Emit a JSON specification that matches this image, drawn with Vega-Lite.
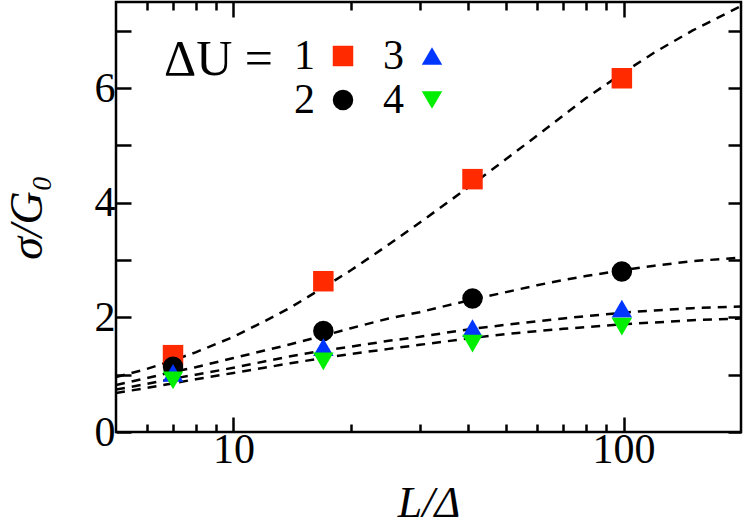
{
  "$schema": "https://vega.github.io/schema/vega-lite/v6.json",
  "width": 625,
  "height": 430,
  "autosize": {"type": "none"},
  "padding": {"left": 116, "top": 2, "right": 6, "bottom": 93},
  "config": {
    "view": {"stroke": "black", "strokeWidth": 2.5},
    "font": "Liberation Serif",
    "axis": {
      "domain": false, "grid": false, "tickColor": "black", "tickWidth": 2.5,
      "labelFont": "Liberation Serif", "labelFontSize": 42, "labelColor": "black",
      "titleFont": "Liberation Serif", "titleFontSize": 42, "titleFontWeight": "normal", "titleColor": "black",
      "labelOverlap": false, "labelFlush": false
    }
  },
  "datasets": {
    "curves": [
      {"dU": "1", "L": 5, "s": 0.96}, {"dU": "1", "L": 6, "s": 1.10}, {"dU": "1", "L": 7, "s": 1.25}, {"dU": "1", "L": 8, "s": 1.39},
      {"dU": "1", "L": 10, "s": 1.66}, {"dU": "1", "L": 12, "s": 1.93}, {"dU": "1", "L": 14, "s": 2.17}, {"dU": "1", "L": 17, "s": 2.52},
      {"dU": "1", "L": 20, "s": 2.82}, {"dU": "1", "L": 25, "s": 3.27}, {"dU": "1", "L": 30, "s": 3.65}, {"dU": "1", "L": 35, "s": 3.98},
      {"dU": "1", "L": 41, "s": 4.32}, {"dU": "1", "L": 50, "s": 4.76}, {"dU": "1", "L": 60, "s": 5.17}, {"dU": "1", "L": 70, "s": 5.52},
      {"dU": "1", "L": 80, "s": 5.82}, {"dU": "1", "L": 99, "s": 6.25}, {"dU": "1", "L": 120, "s": 6.62}, {"dU": "1", "L": 150, "s": 7.0},
      {"dU": "1", "L": 200, "s": 7.43},
      {"dU": "2", "L": 5, "s": 0.82}, {"dU": "2", "L": 6, "s": 0.94}, {"dU": "2", "L": 7, "s": 1.05}, {"dU": "2", "L": 8, "s": 1.13},
      {"dU": "2", "L": 10, "s": 1.29}, {"dU": "2", "L": 12, "s": 1.42}, {"dU": "2", "L": 14, "s": 1.53}, {"dU": "2", "L": 17, "s": 1.68},
      {"dU": "2", "L": 20, "s": 1.81}, {"dU": "2", "L": 25, "s": 1.98}, {"dU": "2", "L": 30, "s": 2.09}, {"dU": "2", "L": 35, "s": 2.2},
      {"dU": "2", "L": 41, "s": 2.31}, {"dU": "2", "L": 50, "s": 2.44}, {"dU": "2", "L": 60, "s": 2.56}, {"dU": "2", "L": 70, "s": 2.65},
      {"dU": "2", "L": 80, "s": 2.72}, {"dU": "2", "L": 99, "s": 2.82}, {"dU": "2", "L": 120, "s": 2.9}, {"dU": "2", "L": 150, "s": 2.98},
      {"dU": "2", "L": 200, "s": 3.04},
      {"dU": "3", "L": 5, "s": 0.74}, {"dU": "3", "L": 6, "s": 0.84}, {"dU": "3", "L": 7, "s": 0.93}, {"dU": "3", "L": 8, "s": 1.0},
      {"dU": "3", "L": 10, "s": 1.12}, {"dU": "3", "L": 12, "s": 1.23}, {"dU": "3", "L": 14, "s": 1.32}, {"dU": "3", "L": 17, "s": 1.42},
      {"dU": "3", "L": 20, "s": 1.49}, {"dU": "3", "L": 25, "s": 1.59}, {"dU": "3", "L": 30, "s": 1.66}, {"dU": "3", "L": 35, "s": 1.73},
      {"dU": "3", "L": 41, "s": 1.8}, {"dU": "3", "L": 50, "s": 1.87}, {"dU": "3", "L": 60, "s": 1.93}, {"dU": "3", "L": 70, "s": 1.98},
      {"dU": "3", "L": 80, "s": 2.02}, {"dU": "3", "L": 99, "s": 2.08}, {"dU": "3", "L": 120, "s": 2.12}, {"dU": "3", "L": 150, "s": 2.16},
      {"dU": "3", "L": 200, "s": 2.19},
      {"dU": "4", "L": 5, "s": 0.68}, {"dU": "4", "L": 6, "s": 0.77}, {"dU": "4", "L": 7, "s": 0.85}, {"dU": "4", "L": 8, "s": 0.92},
      {"dU": "4", "L": 10, "s": 1.03}, {"dU": "4", "L": 12, "s": 1.12}, {"dU": "4", "L": 14, "s": 1.2}, {"dU": "4", "L": 17, "s": 1.29},
      {"dU": "4", "L": 20, "s": 1.36}, {"dU": "4", "L": 25, "s": 1.45}, {"dU": "4", "L": 30, "s": 1.52}, {"dU": "4", "L": 35, "s": 1.58},
      {"dU": "4", "L": 41, "s": 1.64}, {"dU": "4", "L": 50, "s": 1.71}, {"dU": "4", "L": 60, "s": 1.76}, {"dU": "4", "L": 70, "s": 1.8},
      {"dU": "4", "L": 80, "s": 1.83}, {"dU": "4", "L": 99, "s": 1.88}, {"dU": "4", "L": 120, "s": 1.91}, {"dU": "4", "L": 150, "s": 1.95},
      {"dU": "4", "L": 200, "s": 1.98}
    ],
    "points": [
      {"dU": "1", "L": 7, "s": 1.34}, {"dU": "1", "L": 17, "s": 2.63}, {"dU": "1", "L": 41, "s": 4.41}, {"dU": "1", "L": 99, "s": 6.17},
      {"dU": "2", "L": 7, "s": 1.14}, {"dU": "2", "L": 17, "s": 1.76}, {"dU": "2", "L": 41, "s": 2.33}, {"dU": "2", "L": 99, "s": 2.80},
      {"dU": "3", "L": 7, "s": 1.03}, {"dU": "3", "L": 17, "s": 1.48}, {"dU": "3", "L": 41, "s": 1.81}, {"dU": "3", "L": 99, "s": 2.15},
      {"dU": "4", "L": 7, "s": 0.90}, {"dU": "4", "L": 17, "s": 1.23}, {"dU": "4", "L": 41, "s": 1.54}, {"dU": "4", "L": 99, "s": 1.84}
    ]
  },
  "layer": [
    {
      "data": {"name": "curves"},
      "mark": {"type": "line", "color": "black", "strokeWidth": 2.5, "strokeDash": [9, 7], "clip": true},
      "encoding": {
        "x": {"field": "L", "type": "quantitative", "scale": {"type": "log", "domain": [5, 200], "nice": false},
          "axis": {"orient": "bottom", "values": [10, 100], "tickSize": -15, "labelPadding": 12, "title": "L/Δ", "titleFontStyle": "italic", "titleFontSize": 44, "titlePadding": 11}},
        "y": {"field": "s", "type": "quantitative", "scale": {"domain": [0, 7.5], "nice": false},
          "axis": {"orient": "left", "values": [0, 1, 2, 3, 4, 5, 6, 7], "tickSize": -15, "labelPadding": 16,
            "labelExpr": "datum.value % 2 == 0 ? datum.label : ''", "title": "σ/G₀", "titleFontStyle": "italic", "titleFontSize": 46, "titlePadding": 43}},
        "detail": {"field": "dU", "type": "nominal"}
      }
    },
    {
      "data": {"name": "points"},
      "mark": {"type": "point", "filled": true, "opacity": 1, "size": 420, "strokeWidth": 0},
      "encoding": {
        "x": {"field": "L", "type": "quantitative",
          "axis": {"orient": "bottom", "values": [6, 7, 8, 9, 20, 30, 40, 50, 60, 70, 80, 90], "tickSize": -8, "labels": false, "title": null}},
        "y": {"field": "s", "type": "quantitative",
          "axis": {"orient": "right", "values": [0, 1, 2, 3, 4, 5, 6, 7], "tickSize": -13, "labels": false, "title": null}},
        "color": {"field": "dU", "type": "nominal",
          "scale": {"domain": ["1", "2", "3", "4"], "range": ["#ff2a00", "#000000", "#0036ff", "#00ee00"]},
          "legend": {"orient": "none", "legendX": 48, "legendY": 33, "columns": 2, "title": "ΔU =", "titleOrient": "left", "titleAnchor": "start",
            "titleFont": "Liberation Serif", "titleFontSize": 50, "titleFontWeight": "normal", "titleColor": "black", "titlePadding": 49,
            "labelFont": "Liberation Serif", "labelFontSize": 42, "labelColor": "black", "labelAlign": "right", "labelOffset": -49,
            "symbolSize": 420, "symbolStrokeWidth": 0, "columnPadding": 29, "rowPadding": 2, "padding": 0}},
        "shape": {"field": "dU", "type": "nominal",
          "scale": {"domain": ["1", "2", "3", "4"], "range": ["square", "circle", "triangle-up", "triangle-down"]},
          "legend": {"orient": "none", "legendX": 48, "legendY": 33, "columns": 2, "title": "ΔU =", "titleOrient": "left", "titleAnchor": "start",
            "titleFont": "Liberation Serif", "titleFontSize": 50, "titleFontWeight": "normal", "titleColor": "black", "titlePadding": 49,
            "labelFont": "Liberation Serif", "labelFontSize": 42, "labelColor": "black", "labelAlign": "right", "labelOffset": -49,
            "symbolSize": 420, "symbolStrokeWidth": 0, "columnPadding": 29, "rowPadding": 2, "padding": 0}}
      }
    },
    {
      "data": {"name": "points"},
      "mark": {"type": "point", "opacity": 0},
      "encoding": {
        "x": {"field": "L", "type": "quantitative",
          "axis": {"orient": "top", "values": [10, 100], "tickSize": -15, "labels": false, "title": null}},
        "y": {"field": "s", "type": "quantitative", "axis": null}
      }
    },
    {
      "data": {"name": "points"},
      "mark": {"type": "point", "opacity": 0},
      "encoding": {
        "x": {"field": "L", "type": "quantitative",
          "axis": {"orient": "top", "values": [6, 7, 8, 9, 20, 30, 40, 50, 60, 70, 80, 90], "tickSize": -8, "labels": false, "title": null}},
        "y": {"field": "s", "type": "quantitative", "axis": null}
      }
    }
  ],
  "resolve": {"axis": {"x": "independent", "y": "independent"}}
}
